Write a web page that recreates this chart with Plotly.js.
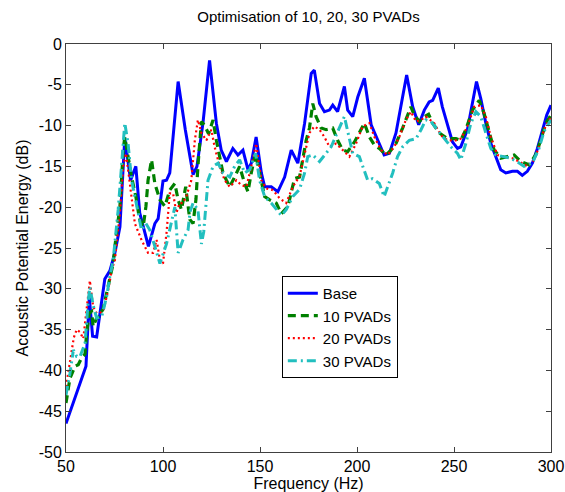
<!DOCTYPE html>
<html>
<head>
<meta charset="utf-8">
<script src="https://cdn.plot.ly/plotly-3.0.1.min.js"></script>
<style>html,body{margin:0;padding:0;background:#fff;}#plot{width:565px;height:492px;}</style>
</head>
<body>
<div id="plot"></div>
<script>
// ---- Data ----
var freqBase = [50,60.3,62,63.7,65.8,70,72.6,75.2,77.8,79.8,80.3,83.3,86,88,91,92.5,95.8,97.5,100,101.8,103.5,107.8,111.5,115.5,117.5,120.6,124,127.5,130,132.7,136,138.6,141.2,143.8,145.5,148,150.7,152.4,155.8,159.2,162.7,166.1,169.5,173,176.4,178,180.7,183.2,185.8,187.5,190,193.5,195.2,197.8,200.4,203.8,207.3,210.7,214,216.7,220.1,223.5,225.6,228.7,231.8,234.7,237.2,239,241.9,244,246.7,249.2,251.8,253.5,256.9,259.5,261.6,263.8,266.4,269,271.5,274.1,276.7,280.1,282.7,285.2,287.8,290.4,293,295.5,297.8,300];
var base = [-46.5,-39.5,-31,-35.8,-35.9,-28.8,-27.8,-25.6,-22.4,-12.5,-11.5,-16.7,-15,-20.7,-23.5,-24.8,-22,-21.4,-16.8,-16.7,-15.8,-4.6,-10.5,-16,-15,-9.7,-2,-9.7,-13,-14.4,-12.8,-13.6,-13,-15.4,-14.6,-11.4,-15.8,-17.5,-17.5,-18.1,-16.3,-13,-14.6,-9.7,-3.6,-3.2,-7.3,-8.3,-8.1,-7.5,-8.3,-5.2,-8.1,-8.9,-6.5,-4.2,-9.9,-11.8,-13.6,-13.4,-10.9,-6.5,-3.8,-7.7,-9.9,-8.1,-7.1,-6.9,-5.4,-7.7,-10.1,-12,-12.8,-12.6,-10.5,-7.3,-4.6,-6.7,-9.7,-12.2,-13.8,-15.4,-15.8,-15.6,-15.6,-16.1,-15.6,-14.6,-12.8,-10.5,-8.7,-7.5];

var freq10 = [50,52,54.6,56.3,58,59.8,60.6,62,63.2,64,65.8,67.1,69.2,70.9,72.6,74.3,75.2,77.8,79.5,80.3,82,83.8,86,88,89.8,91.2,92.3,94.1,95.8,98.4,101,103.5,106.1,107.8,109.5,111.7,113.8,115.5,117,118,119.8,121.5,123.5,125.8,127.5,129.2,130.9,132.7,134.4,136.9,139.5,142.1,143.8,145.5,147.7,149.8,152.4,155,158.4,161,164.4,167.8,170.4,173.8,175.5,177.2,178.9,181.5,184.1,187.5,190,192.6,195.2,198.7,201.2,203.8,206.4,209,211.5,215,217.5,220.1,223.5,226.1,227.8,229.5,232.1,234.7,236.9,239,242.4,246.7,251,253.5,256.1,259.5,263,265.5,268.1,270.7,274.1,277.5,281,284.4,288.7,292.1,294.7,297.3,300];
var pvad10 = [-44,-41,-39.5,-39.3,-38.5,-38,-35.5,-33,-32.8,-34.6,-33.6,-33.4,-32.4,-30.6,-28.5,-26.9,-24.8,-19.9,-13,-11.4,-13.8,-16.3,-18.7,-21.6,-22.4,-19.9,-16.7,-14.2,-17.1,-19.1,-19.9,-17.9,-17.1,-19.1,-20.3,-17.5,-21.5,-22,-19,-15,-9.5,-10,-11,-9.3,-11.8,-13.8,-15.8,-16.7,-17.5,-16.3,-15,-17.1,-18.1,-15.8,-13.4,-15.8,-18.7,-19.1,-19.5,-20.8,-19.9,-16.5,-16.3,-11.8,-10.3,-7.3,-8.9,-10.3,-10.5,-10.3,-11.8,-13,-13.2,-12,-10.9,-9.7,-11.4,-12.4,-12.8,-13.6,-13,-12.2,-10.3,-8.7,-7.7,-8.7,-9.5,-8.9,-8.6,-9.7,-10.9,-11.6,-11.6,-11.8,-10.5,-8.1,-6.9,-8.5,-10.7,-13,-14,-13.8,-13.6,-14.4,-14.8,-13.6,-11.8,-9.7,-8.7];

var freq20 = [50,52,54,55.5,57.2,58.9,60.6,62.3,64,65.8,67.5,69.5,71.8,73.5,75.2,77.8,79.5,80.9,82,83.8,85.5,88.9,92.3,94.9,96.7,98.4,100,101.8,103.5,105.2,106.9,108.6,110.3,112,114.6,116.4,118,119.8,122.4,124.9,126.6,129.2,131.8,134.4,137.8,140.4,143,145.5,148,150.7,153.2,156.6,160.1,163.5,166.9,170.4,173.8,175.5,178,180.7,183.2,185.8,189.2,192.6,196.1,199.5,202.9,206.4,209,212.4,215.8,219.2,221.8,225.2,227.8,230.4,233,235.5,239.8,243.3,246.7,251,253.5,257,260.4,263.8,266.4,269,272.4,275.8,280.1,283.5,287.8,291.3,293.8,296.4,300];
var pvad20 = [-42,-38.7,-36,-35,-35.3,-36.1,-32.6,-29,-32.2,-33,-33,-32.5,-30.1,-27.7,-26.5,-20.7,-15,-13.4,-15.4,-19.1,-22,-24,-25.6,-25.6,-24,-26.5,-26.9,-23.2,-18.3,-18.3,-20.7,-19.5,-19.5,-18.7,-16.7,-11.8,-9.3,-10.9,-11.8,-10.5,-12.6,-15,-16.7,-17.5,-16.7,-17.3,-17.5,-15,-12.2,-16.7,-17.7,-17.9,-18.9,-19.5,-17.5,-16.2,-12.6,-10.9,-10.1,-10.5,-11.4,-12.6,-12.2,-13,-13.8,-12.2,-10.1,-9.7,-11.4,-13,-13.6,-12.6,-11.4,-9.3,-8.3,-9.5,-9.3,-8.9,-9.7,-11.2,-11.8,-11.8,-11.6,-10.1,-7.7,-7.5,-8.9,-11.4,-13.6,-13.8,-14,-14.4,-15,-14.2,-12.6,-10.5,-8.9];

var freq30 = [50,52,53.8,55.5,57.2,59.8,61.5,62.3,64,65.8,68.4,70.9,72.6,74.3,76.9,78.6,80.3,82,83.8,87.2,88.9,91.2,93.2,95.8,98.4,101.8,104.4,106.1,107.8,110.3,112.9,114,115.5,118,119.8,121,123.2,125.8,128.4,130.9,134.4,136.9,139.5,142.1,144.7,147.7,149.8,152.4,155.8,158.4,161,163.5,166.9,170.4,173,174.6,177.2,180.7,184.1,186.7,189.2,191.8,193.5,195.5,197.8,201.2,203.8,205.5,208,211.5,214,218.4,220.9,223.5,227,230.4,233,235.5,238.1,241.5,245,248.4,251.8,253.5,256.1,258.7,261.3,263.8,266.4,269,271.5,275,279.3,283,286.1,290.4,293.8,296.4,300];
var pvad30 = [-43,-40.4,-37.5,-38.3,-38.3,-36.7,-31.4,-29.8,-32,-33.6,-33.4,-31,-28.5,-26.5,-20.3,-15,-9.7,-12.2,-16.7,-20.7,-22.8,-22,-22.8,-24.8,-26.9,-24.5,-21.5,-20,-25.6,-24,-22.8,-20.5,-19.5,-20.3,-24.5,-23,-16.7,-15,-14.6,-15.8,-16.3,-15,-14.2,-15.8,-15.4,-13.4,-16.7,-18.7,-19.5,-20.3,-21,-20.3,-18.7,-17.8,-15.8,-13.8,-13.6,-14.4,-13.4,-12.6,-11.2,-9.7,-8.9,-11,-13.4,-13.8,-15.4,-16.7,-16.5,-17.1,-18.7,-15.8,-13.8,-12.6,-11.8,-11.6,-10.5,-9.3,-9.5,-10.5,-11.6,-12.6,-13.4,-14.2,-12.2,-9.7,-8.3,-8.9,-10.9,-12.8,-13.6,-13.8,-14,-14.5,-15,-14.6,-12.8,-10.7,-9.3];

var seriesNames = ['Base','10 PVADs','20 PVADs','30 PVADs'];
var xTicks = [50,100,150,200,250,300];
var yTicks = [-50,-45,-40,-35,-30,-25,-20,-15,-10,-5,0];

var FONT = 'Liberation Sans, Arial, Helvetica, sans-serif';

var traces = [
  {x: freqBase, y: base, name: seriesNames[0], mode: 'lines',
   line: {color: '#0000ff', width: 3, dash: 'solid'}},
  {x: freq10, y: pvad10, name: seriesNames[1], mode: 'lines',
   line: {color: '#008000', width: 3.2, dash: '8px,5px'}},
  {x: freq20, y: pvad20, name: seriesNames[2], mode: 'lines',
   line: {color: '#ff0000', width: 2.2, dash: '2px,3px'}},
  {x: freq30, y: pvad30, name: seriesNames[3], mode: 'lines',
   line: {color: '#22bfbf', width: 3, dash: '9px,4px,2px,4px'}}
];

var axisCommon = {
  showline: true, linecolor: '#404040', linewidth: 1, mirror: 'ticks',
  ticks: 'inside', ticklen: 5, tickcolor: '#404040', tickwidth: 1,
  showgrid: false, zeroline: false,
  tickfont: {family: FONT, size: 16, color: '#000'}
};

var layout = {
  width: 565, height: 492,
  margin: {l: 66, r: 14, t: 44, b: 40, pad: 0},
  paper_bgcolor: '#fff', plot_bgcolor: '#fff',
  font: {family: FONT, color: '#000'},
  title: {text: 'Optimisation of 10, 20, 30 PVADs', font: {family: FONT, size: 15, color: '#000'},
          x: 0.546, xanchor: 'center', y: 0.965, yanchor: 'middle'},
  xaxis: Object.assign({}, axisCommon, {
    range: [50, 300], tickvals: xTicks, ticktext: xTicks.map(String),
    title: {text: 'Frequency (Hz)', font: {family: FONT, size: 16, color: '#000'}, standoff: 3}
  }),
  yaxis: Object.assign({}, axisCommon, {
    range: [-50, 0], tickvals: yTicks, ticktext: yTicks.map(String),
    title: {text: 'Acoustic Potential Energy (dB)', font: {family: FONT, size: 16, color: '#000'}, standoff: 6}
  }),
  showlegend: true,
  legend: {x: 0.445, y: 0.4315, xanchor: 'left', yanchor: 'top',
           bgcolor: '#fff', bordercolor: '#000', borderwidth: 1,
           font: {family: FONT, size: 15, color: '#000'}, tracegroupgap: 0}
};

Plotly.newPlot('plot', traces, layout, {displayModeBar: false, staticPlot: true});
</script>
</body>
</html>
